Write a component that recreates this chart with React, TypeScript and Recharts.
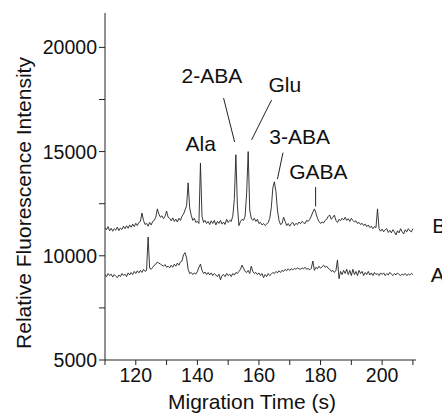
import { LineChart, Line, XAxis, YAxis, ReferenceLine, ReferenceDot, Label } from 'recharts'

// sampling of the traces (s)
const START = 110
const STEP = 0.5

// upper trace (B), one value per 0.5 s from 110 s to 210 s
const traceB = [
  11350, 11250, 11400, 11200, 11320, 11180, 11300, 11230, 11380, 11210, 11330, 11260, 11420, 11300, 11440, 11320, 11480, 11370, 11520, 11400,
  11560, 11450, 11600, 11650, 12050, 11700, 11500, 11560, 11420, 11600, 11480, 11650, 11700, 11850, 12250, 12000, 11850, 11920, 11780, 11900,
  12150, 11850, 11800, 11680, 11820, 11650, 11760, 11620, 11800, 11700, 11900, 12000, 12200, 12400, 13500, 12300, 11950, 11700, 11800, 11600,
  11650, 11550, 14450, 11900, 11600, 11700, 11550, 11650, 11500, 11680, 11550, 11700, 11480, 11650, 11550, 11700, 11520, 11620, 11500, 11750,
  11600, 11700, 11650, 11900, 12700, 14850, 12400, 11450, 11650, 11750, 11700, 11900, 13000, 15000, 12200, 11800, 11700, 11800, 11650, 11750,
  11550, 11600, 11480, 11550, 11450, 11520, 11600, 11800, 12300, 13250, 13550, 13100, 12200, 11700, 11500, 11550, 11850, 11650, 11450, 11550,
  11420, 11550, 11600, 11450, 11560, 11500, 11620, 11540, 11650, 11580, 11550, 11700, 11650, 11750, 11900, 12100, 12250, 12050, 11800, 11650,
  11550, 11620, 11580, 11700, 11750, 11900, 11950, 11750, 11850, 11950, 11700, 11600, 11750, 11680, 11800, 11720, 11850, 11700, 11780, 11650,
  11800, 11700, 11620, 11680, 11550, 11600, 11500, 11560, 11450, 11520, 11400, 11480, 11350, 11420, 11300, 11400, 11350, 12250, 11300, 11180,
  11280, 11150, 11250, 11300, 11120, 11220, 11100, 11250, 11150, 11000, 11200, 11100, 11300, 11150, 11050, 11250, 11150, 11300, 11200, 11150,
  11300,
]

// lower trace (A)
const traceA = [
  9100, 9000, 9150, 9050, 9120, 8980, 9100, 9020, 8950, 9080, 9000, 9150, 9050, 9120, 9000, 9180, 9080, 9200, 9100, 9250,
  9150, 9280, 9180, 9300, 9200, 9350, 9250, 9300, 10900, 9400, 9350, 9450, 9550, 9600, 9700, 9650, 9600, 9550, 9500, 9580,
  9450, 9500, 9420, 9550, 9450, 9600, 9500, 9650, 9550, 9700, 9750, 10050, 10150, 9900, 9350, 9150, 9200, 9100, 9180, 9120,
  9250, 9450, 9600, 9300, 9150, 9220, 9100, 9200, 9080, 9180, 9050, 9150, 9080, 9000, 9120, 8850, 9050, 9100, 9000, 9150,
  9050, 9120, 9000, 9150, 9080, 9200, 9150, 9250, 9350, 9550, 9400, 9250, 9200, 9300, 9150, 9500, 9250, 9150, 9200, 9100,
  9180, 9050, 9150, 8950, 9100, 9000, 9150, 9050, 9120, 9200, 9150, 9250, 9180, 9280, 9200, 9300, 9250, 9350, 9280, 9380,
  9300, 9380, 9320, 9400, 9350, 9420, 9380, 9350, 9420, 9380, 9450, 9350, 9400, 9320, 9400, 9750, 9300, 9450, 9380, 9500,
  9400, 9480, 9550, 9450, 9500, 9400, 9350, 9250, 9300, 9200, 9300, 9800, 8900, 9250, 9100, 9300, 9150, 9350, 9100, 9300,
  9050, 9350, 9100, 9250, 9050, 9300, 9150, 9250, 9050, 9200, 9100, 9250, 9080, 9180, 9050, 9200, 9100, 9150, 9050, 9180,
  9100, 9180, 9050, 9150, 9080, 9200, 9120, 9050, 9150, 9080, 9180, 9100, 9050, 9120, 9080, 9150, 9050, 9120, 9080, 9150,
  9100,
]

const xTicks = [110, 120, 130, 140, 150, 160, 170, 180, 190, 200, 210]
const xLabeled = [120, 140, 160, 180, 200]
const yTicks = [5000, 7500, 10000, 12500, 15000, 17500, 20000]
const yLabeled = [5000, 10000, 15000, 20000]

// peak annotations (text centre / baseline, in data units)
const peakNames = ['Ala', '2-ABA', 'Glu', '3-ABA', 'GABA']
const peakTextX = [141.1, 144.7, 168.4, 173.2, 179.3]
const peakTextY = [15030, 18290, 17860, 15370, 13670]

// leader lines from label to peak
const leaderStart = [[148.5, 17570], [164.1, 17480], [167.8, 14950], [178.4, 13300]]
const leaderEnd = [[152.1, 15460], [157.6, 15560], [166.0, 13680], [178.4, 12370]]

const traceNames = ['B', 'A']
const traceTextX = [216.3, 215.8]
const traceTextY = [11110, 8760]

const FONT = '"Liberation Sans", Arial, Helvetica, sans-serif'
const INK = '#222'

const data = traceB.map((b, i) => ({ t: START + i * STEP, B: b, A: traceA[i] }))

function textShape(value: string, anchor: 'middle' | 'start') {
  return (p: any) => (
    <text x={p.cx} y={p.cy} textAnchor={anchor} fontSize={21} fontFamily={FONT} fill="#111">
      {value}
    </text>
  )
}

export default function App() {
  return (
    <div style={{ position: 'absolute', left: 0, top: 0, width: 442, height: 414, background: '#fff' }}>
      <LineChart
        width={442}
        height={414}
        data={data}
        margin={{ top: 13, right: 26, bottom: 24, left: 35 }}
      >
        <XAxis
          dataKey="t"
          type="number"
          domain={[110, 211]}
          ticks={xTicks}
          tickFormatter={(v) => (xLabeled.includes(v) ? String(v) : '')}
          height={30}
          tickSize={5}
          tickMargin={3}
          stroke={INK}
          tick={{ fill: '#111', fontSize: 19.5, fontFamily: FONT }}
          allowDataOverflow
        >
          <Label
            content={() => (
              <text x={252} y={409} textAnchor="middle" fontSize={21} fontFamily={FONT} fill="#111">
                Migration Time (s)
              </text>
            )}
          />
        </XAxis>
        <YAxis
          type="number"
          domain={[5000, 21650]}
          ticks={yTicks}
          tickFormatter={(v) => (yLabeled.includes(v) ? String(v) : '')}
          width={70}
          tickSize={6}
          tickMargin={2}
          stroke={INK}
          tick={{ fill: '#111', fontSize: 19.5, fontFamily: FONT }}
          allowDataOverflow
        >
          <Label
            content={() => (
              <text
                x={31}
                y={203}
                transform="rotate(-90 31 203)"
                textAnchor="middle"
                fontSize={21}
                fontFamily={FONT}
                fill="#111"
              >
                Relative Fluorescence Intensity
              </text>
            )}
          />
        </YAxis>
        <Line dataKey="B" type="linear" stroke={INK} strokeWidth={0.9} dot={false} isAnimationActive={false} />
        <Line dataKey="A" type="linear" stroke={INK} strokeWidth={0.9} dot={false} isAnimationActive={false} />
        {leaderStart.map((s, i) => (
          <ReferenceLine
            key={`lead-${i}`}
            segment={[{ x: s[0], y: s[1] }, { x: leaderEnd[i][0], y: leaderEnd[i][1] }]}
            stroke={INK}
            strokeWidth={1}
            ifOverflow="visible"
          />
        ))}
        {peakNames.map((n, i) => (
          <ReferenceDot
            key={n}
            x={peakTextX[i]}
            y={peakTextY[i]}
            r={0}
            ifOverflow="visible"
            shape={textShape(n, 'middle')}
          />
        ))}
        {traceNames.map((n, i) => (
          <ReferenceDot
            key={n}
            x={traceTextX[i]}
            y={traceTextY[i]}
            r={0}
            ifOverflow="visible"
            shape={textShape(n, 'start')}
          />
        ))}
      </LineChart>
    </div>
  )
}
